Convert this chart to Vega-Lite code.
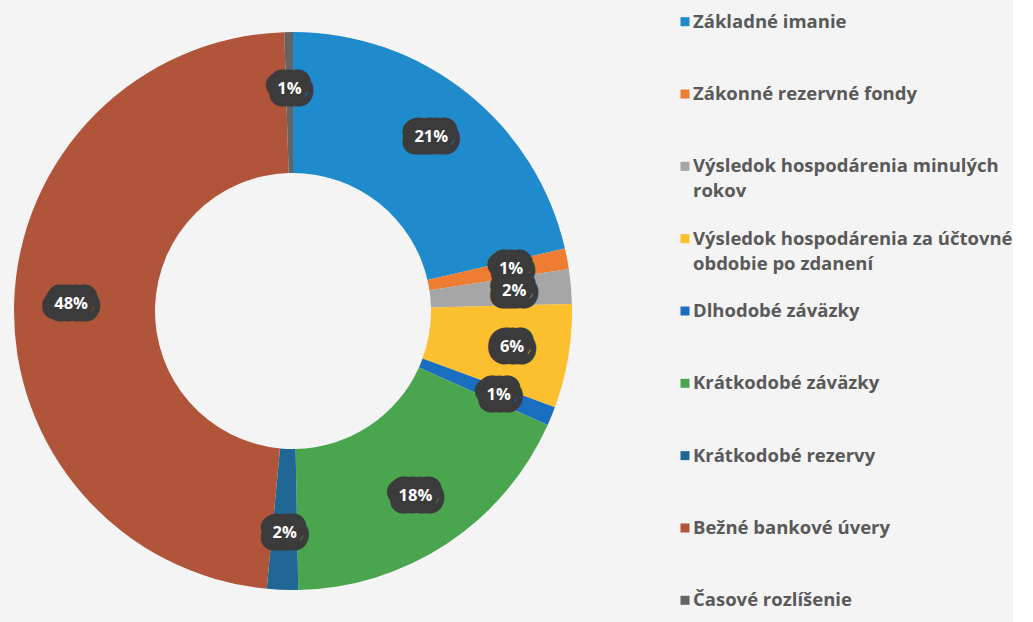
{
  "$schema": "https://vega.github.io/schema/vega-lite/v6.json",
  "background": "#f4f4f4",
  "padding": 0,
  "spacing": 94,
  "config": {"view": {"stroke": null}, "font": "Open Sans"},
  "datasets": {
    "slices": [
      {"i": 1, "name": "Základné imanie", "legend": "Základné imanie", "value": 21.4, "label": "21%"},
      {"i": 2, "name": "Zákonné rezervné fondy", "legend": "Zákonné rezervné fondy", "value": 1.2, "label": "1%"},
      {"i": 3, "name": "Výsledok hospodárenia minulých rokov", "legend": "Výsledok hospodárenia minulých\nrokov", "value": 2.0, "label": "2%"},
      {"i": 4, "name": "Výsledok hospodárenia za účtovné obdobie po zdanení", "legend": "Výsledok hospodárenia za účtovné\nobdobie po zdanení", "value": 6.0, "label": "6%"},
      {"i": 5, "name": "Dlhodobé záväzky", "legend": "Dlhodobé záväzky", "value": 1.1, "label": "1%"},
      {"i": 6, "name": "Krátkodobé záväzky", "legend": "Krátkodobé záväzky", "value": 18.0, "label": "18%"},
      {"i": 7, "name": "Krátkodobé rezervy", "legend": "Krátkodobé rezervy", "value": 1.8, "label": "2%"},
      {"i": 8, "name": "Bežné bankové úvery", "legend": "Bežné bankové úvery", "value": 48.0, "label": "48%"},
      {"i": 9, "name": "Časové rozlíšenie", "legend": "Časové rozlíšenie", "value": 0.5, "label": "1%"}
    ]
  },
  "hconcat": [
    {
      "width": 586,
      "height": 622,
      "data": {"name": "slices"},
      "encoding": {
        "theta": {"field": "value", "type": "quantitative", "stack": true},
        "order": {"field": "i", "type": "quantitative"}
      },
      "layer": [
        {
          "mark": {"type": "arc", "innerRadius": 138, "outerRadius": 279},
          "encoding": {
            "color": {
              "field": "name",
              "type": "nominal",
              "sort": null,
              "legend": null,
              "scale": {
                "domain": ["Základné imanie", "Zákonné rezervné fondy", "Výsledok hospodárenia minulých rokov", "Výsledok hospodárenia za účtovné obdobie po zdanení", "Dlhodobé záväzky", "Krátkodobé záväzky", "Krátkodobé rezervy", "Bežné bankové úvery", "Časové rozlíšenie"],
                "range": ["#1f8bcc", "#ee7d32", "#a6a6a6", "#fcbf2e", "#1a6ec0", "#4aa54f", "#1f6896", "#b0553a", "#636363"]
              }
            }
          }
        },
        {
          "mark": {"type": "text", "radius": 222, "font": "Open Sans", "fontWeight": "bold", "fontSize": 16.5, "baseline": "middle", "fill": "#3b3b3b", "stroke": "#3b3b3b", "strokeWidth": 25, "strokeJoin": "round"},
          "encoding": {"text": {"field": "label"}}
        },
        {
          "mark": {"type": "text", "radius": 222, "font": "Open Sans", "fontWeight": "bold", "fontSize": 16.5, "baseline": "middle", "fill": "#ffffff"},
          "encoding": {"text": {"field": "label"}}
        }
      ]
    },
    {
      "width": 2,
      "height": 622,
      "data": {"name": "slices"},
      "encoding": {
        "y": {"field": "name", "type": "nominal", "sort": null, "scale": {"type": "point", "padding": 0.3}, "axis": null}
      },
      "layer": [
        {
          "mark": {"type": "point", "shape": "square", "filled": true, "size": 81, "opacity": 1},
          "encoding": {
            "color": {
              "field": "name",
              "type": "nominal",
              "sort": null,
              "legend": null,
              "scale": {
                "domain": ["Základné imanie", "Zákonné rezervné fondy", "Výsledok hospodárenia minulých rokov", "Výsledok hospodárenia za účtovné obdobie po zdanení", "Dlhodobé záväzky", "Krátkodobé záväzky", "Krátkodobé rezervy", "Bežné bankové úvery", "Časové rozlíšenie"],
                "range": ["#1f8bcc", "#ee7d32", "#a6a6a6", "#fcbf2e", "#1a6ec0", "#4aa54f", "#1f6896", "#b0553a", "#636363"]
              }
            }
          }
        },
        {
          "mark": {"type": "text", "align": "left", "baseline": "alphabetic", "dx": 8, "dy": 6, "lineBreak": "\n", "lineHeight": 25, "font": "Open Sans", "fontWeight": "bold", "fontSize": 18.5, "color": "#595959"},
          "encoding": {"text": {"field": "legend"}}
        }
      ]
    }
  ]
}
